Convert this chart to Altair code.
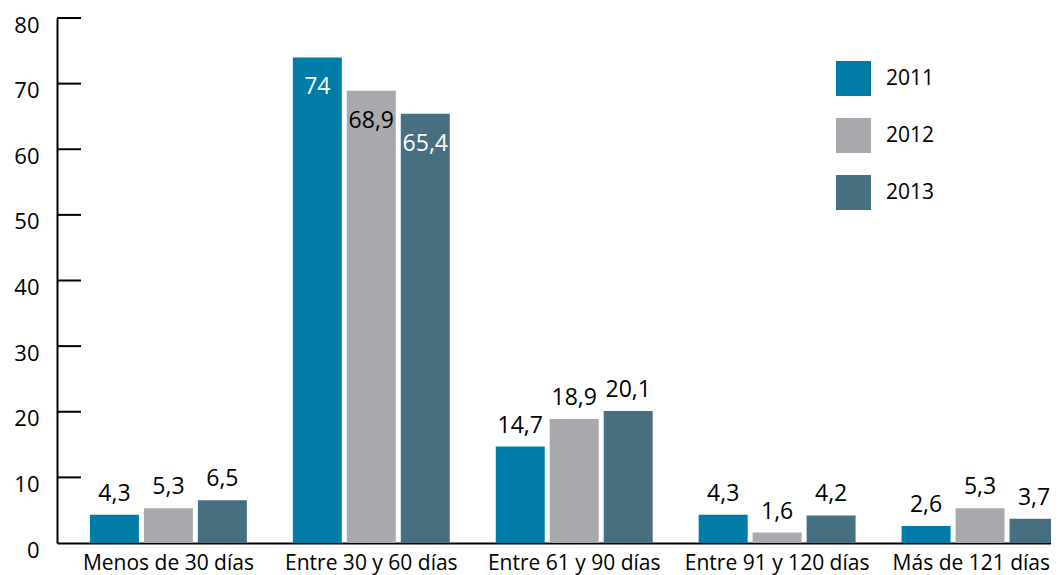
import altair as alt
import pandas as pd

categories = ["Menos de 30 días", "Entre 30 y 60 días", "Entre 61 y 90 días",
              "Entre 91 y 120 días", "Más de 121 días"]
years = ["2011", "2012", "2013"]
v2011 = [4.3, 74, 14.7, 4.3, 2.6]
v2012 = [5.3, 68.9, 18.9, 1.6, 5.3]
v2013 = [6.5, 65.4, 20.1, 4.2, 3.7]
colors = ["#007CA7", "#A8A9AD", "#476F82"]
y_ticks = [0, 10, 20, 30, 40, 50, 60, 70, 80]

rows = []
for yr, vals in zip(years, [v2011, v2012, v2013]):
    for c, v in zip(categories, vals):
        rows.append({"category": c, "year": yr, "value": v})
df = pd.DataFrame(rows)
ticks_df = pd.DataFrame({"v": y_ticks[1:]})

FONT = "Open Sans"
last_cat = categories[-1]
is_last = f"datum.value == '{last_cat}'"

x = alt.X("category:N", sort=categories, title=None,
          scale=alt.Scale(range=[0, 1004], paddingInner=0.202, paddingOuter=0.075, align=1),
          axis=alt.Axis(labelAngle=0, ticks=False, domainColor="black", domainWidth=2,
                        labelFontSize=21, labelPadding=9, labelColor="black", labelFont=FONT,
                        labelLimit=400,
                        labelAlign=alt.condition(is_last, alt.value("right"), alt.value("center")),
                        labelOffset=alt.condition(is_last, alt.value(70), alt.value(0))))
xo = alt.XOffset("year:N", sort=years,
                 scale=alt.Scale(paddingInner=0.0926, paddingOuter=0.0463))
y = alt.Y("value:Q", title=None,
          scale=alt.Scale(domain=[0, 80], nice=False),
          axis=alt.Axis(values=y_ticks, ticks=False, grid=False, domainColor="black",
                        domainWidth=2, labelFontSize=22, labelPadding=18, labelOffset=7,
                        labelColor="black", labelFont=FONT))

base = alt.Chart(df).transform_calculate(
    label="replace(toString(datum.value), '.', ',')"
)

bars = base.mark_bar().encode(
    x=x, xOffset=xo, y=y,
    color=alt.Color("year:N", sort=years,
                    scale=alt.Scale(domain=years, range=colors),
                    legend=alt.Legend(orient="none", legendX=779, legendY=43, title=None,
                                      symbolType="square", symbolSize=1225,
                                      symbolStrokeWidth=0, symbolOpacity=1,
                                      labelFontSize=21, labelFont=FONT, labelColor="black",
                                      labelOffset=15, rowPadding=22, padding=0)),
)

outside = base.transform_filter("datum.value <= 50").mark_text(
    baseline="alphabetic", dy=-14, fontSize=23, font=FONT, color="black"
).encode(x=x, xOffset=xo, y=y, text="label:N")

inside = base.transform_filter("datum.value > 50").mark_text(
    baseline="alphabetic", dy=37, fontSize=23, font=FONT
).encode(
    x=x, xOffset=xo, y=y, text="label:N",
    color=alt.condition("datum.year == '2012'", alt.value("black"), alt.value("white")),
)

tick_rules = alt.Chart(ticks_df).mark_rule(color="black", strokeWidth=2).encode(
    y=alt.Y("v:Q"), x=alt.value(0), x2=alt.value(24)
)

chart = alt.layer(bars, outside, inside, tick_rules).properties(
    width=994, height=525,
    autosize=alt.AutoSizeParams(type="none"),
    padding={"left": 49, "top": 10, "right": 0, "bottom": 40},
).configure_view(stroke=None)

chart.save("out.html", embed_options={"renderer": "svg", "actions": False})
